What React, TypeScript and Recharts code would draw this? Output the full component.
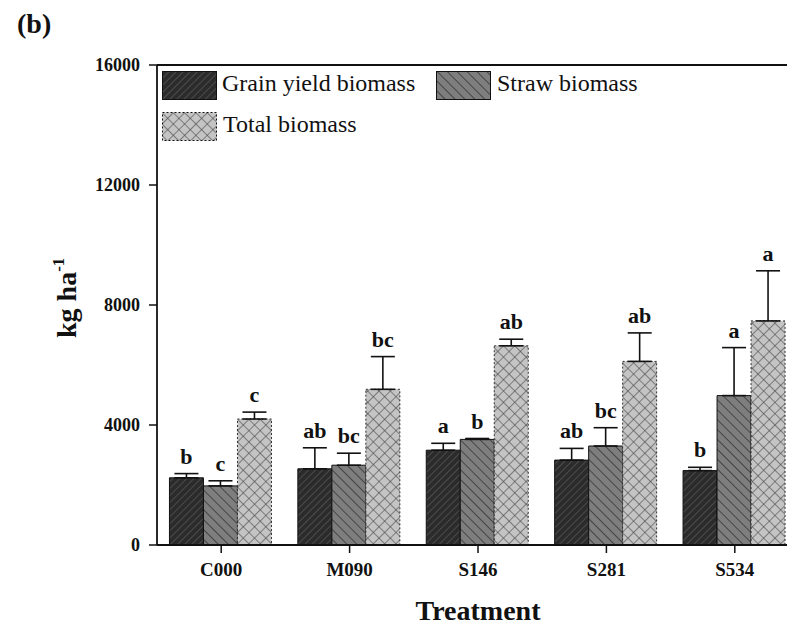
import React from 'react';
import { BarChart, Bar, XAxis, YAxis, ErrorBar, LabelList, Legend, ReferenceLine } from 'recharts';

const categories = ['C000', 'M090', 'S146', 'S281', 'S534'];
const grain = [2240, 2540, 3160, 2830, 2480];
const grainErr = [140, 700, 230, 390, 110];
const straw = [1970, 2660, 3520, 3300, 4980];
const strawErr = [170, 400, 30, 610, 1600];
const total = [4200, 5190, 6640, 6120, 7470];
const totalErr = [230, 1090, 220, 950, 1670];
const grainLetters = ['b', 'ab', 'a', 'ab', 'b'];
const strawLetters = ['c', 'bc', 'b', 'bc', 'a'];
const totalLetters = ['c', 'bc', 'ab', 'ab', 'a'];
const yTicks = [0, 4000, 8000, 12000, 16000];

const data = categories.map((c, i) => ({
  name: c,
  grain: grain[i],
  grainErr: [0, grainErr[i]],
  grainLetter: grainLetters[i],
  straw: straw[i],
  strawErr: [0, strawErr[i]],
  strawLetter: strawLetters[i],
  total: total[i],
  totalErr: [0, totalErr[i]],
  totalLetter: totalLetters[i],
}));

const FONT = "'Times New Roman', 'Liberation Serif', serif";

const makeLetter = (vals: number[], errs: number[]) => (props: any) => {
  const { x, y, width, height, value, index } = props;
  const v = vals[index];
  const e = errs[index];
  const pxPer = v ? Number(height) / v : 0;
  const top = Number(y) - e * pxPer;
  return (
    <text
      x={Number(x) + Number(width) / 2}
      y={top - 10}
      textAnchor="middle"
      fontFamily={FONT}
      fontWeight="bold"
      fontSize={22}
      fill="#111"
    >
      {value}
    </text>
  );
};

const Swatch = ({ fill, dashed }: { fill: string; dashed?: boolean }) => (
  <svg width={55} height={29} style={{ display: 'block' }}>
    <rect
      x={0.5}
      y={0.5}
      width={54}
      height={28}
      fill={fill}
      stroke="#111"
      strokeWidth={1}
      strokeDasharray={dashed ? '2 2' : undefined}
    />
  </svg>
);

const renderLegend = () => {
  const txt: React.CSSProperties = {
    position: 'absolute',
    fontFamily: FONT,
    fontSize: 24,
    color: '#111',
    lineHeight: '29px',
    whiteSpace: 'nowrap',
  };
  return (
    <div style={{ position: 'relative', width: 0, height: 0, overflow: 'visible' }}>
      <div style={{ position: 'absolute', left: 162, top: 71 }}>
        <Swatch fill="url(#pGrain)" />
      </div>
      <div style={{ ...txt, left: 222, top: 69 }}>Grain yield biomass</div>
      <div style={{ position: 'absolute', left: 436, top: 71 }}>
        <Swatch fill="url(#pStraw)" />
      </div>
      <div style={{ ...txt, left: 497, top: 69 }}>Straw biomass</div>
      <div style={{ position: 'absolute', left: 162, top: 112 }}>
        <Swatch fill="url(#pTotal)" dashed />
      </div>
      <div style={{ ...txt, left: 223, top: 110 }}>Total biomass</div>
    </div>
  );
};

const YLabel = () => (
  <text
    transform="translate(76, 338) rotate(-90)"
    fontFamily={FONT}
    fontWeight="bold"
    fontSize={28}
    fill="#111"
  >
    kg ha
    <tspan fontSize={17} dy={-12}>-1</tspan>
  </text>
);

const XLabel = (props: any) => {
  const vb = props.viewBox || {};
  const cx = (vb.x ?? 157) + (vb.width ?? 642) / 2;
  return (
    <text x={cx} y={620} textAnchor="middle" fontFamily={FONT} fontWeight="bold" fontSize={28} fill="#111">
      Treatment
    </text>
  );
};

export default function App() {
  return (
    <div style={{ position: 'fixed', left: 0, top: 0, width: 787, height: 625, overflow: 'hidden', background: '#fff' }}>
      <svg width={0} height={0} style={{ position: 'absolute' }}>
        <defs>
          <pattern id="pGrain" patternUnits="userSpaceOnUse" width={5} height={5} patternTransform="rotate(45)">
            <rect width={5} height={5} fill="#2b2b2b" />
            <line x1={0} y1={0} x2={0} y2={5} stroke="#555" strokeWidth={1.5} />
          </pattern>
          <pattern id="pStraw" patternUnits="userSpaceOnUse" width={7} height={7} patternTransform="rotate(-45)">
            <rect width={7} height={7} fill="#7e7e7e" />
            <line x1={0} y1={0} x2={0} y2={7} stroke="#363636" strokeWidth={1.6} />
          </pattern>
          <pattern id="pTotal" patternUnits="userSpaceOnUse" width={8} height={8} patternTransform="rotate(45)">
            <rect width={8} height={8} fill="#c4c4c4" />
            <line x1={0} y1={0} x2={0} y2={8} stroke="#484848" strokeWidth={1.2} />
            <line x1={0} y1={0} x2={8} y2={0} stroke="#484848" strokeWidth={1.2} />
          </pattern>
        </defs>
      </svg>
      <div style={{ position: 'absolute', left: 17, top: 8, fontFamily: FONT, fontWeight: 'bold', fontSize: 28, color: '#111' }}>
        (b)
      </div>
      <div style={{ position: 'absolute', left: 0, top: 0 }}>
        <BarChart
          width={810}
          height={625}
          data={data}
          margin={{ top: 65, right: 11, bottom: 0, left: 77 }}
          barGap={0}
          barCategoryGap="9.7%"
        >
          <XAxis
            dataKey="name"
            height={80}
            tickSize={8}
            tickMargin={10}
            axisLine={{ stroke: '#111', strokeWidth: 1.8 }}
            tickLine={{ stroke: '#111', strokeWidth: 1.5 }}
            tick={{ fontFamily: FONT, fontWeight: 'bold', fontSize: 19, fill: '#111' }}
            label={<XLabel />}
          />
          <YAxis
            width={80}
            domain={[0, 16000]}
            ticks={yTicks}
            interval={0}
            tickSize={8}
            tickMargin={9}
            axisLine={{ stroke: '#111', strokeWidth: 1.8 }}
            tickLine={{ stroke: '#111', strokeWidth: 1.5 }}
            tick={{ fontFamily: FONT, fontWeight: 'bold', fontSize: 18, fill: '#111' }}
            label={<YLabel />}
          />
          <ReferenceLine y={16000} stroke="#111" strokeWidth={1.8} />
          <Legend
            layout="horizontal"
            verticalAlign="middle"
            align="center"
            content={renderLegend}
            wrapperStyle={{ position: 'absolute', left: 0, top: 0, width: 0, height: 0, overflow: 'visible' }}
          />
          <Bar dataKey="grain" name="Grain yield biomass" fill="url(#pGrain)" stroke="#111" strokeWidth={1} isAnimationActive={false}>
            <ErrorBar dataKey="grainErr" width={12} stroke="#111" strokeWidth={1.6} direction="y" />
            <LabelList dataKey="grainLetter" content={makeLetter(grain, grainErr)} />
          </Bar>
          <Bar dataKey="straw" name="Straw biomass" fill="url(#pStraw)" stroke="#111" strokeWidth={1} isAnimationActive={false}>
            <ErrorBar dataKey="strawErr" width={12} stroke="#111" strokeWidth={1.6} direction="y" />
            <LabelList dataKey="strawLetter" content={makeLetter(straw, strawErr)} />
          </Bar>
          <Bar dataKey="total" name="Total biomass" fill="url(#pTotal)" stroke="#333" strokeWidth={1} strokeDasharray="2 2" isAnimationActive={false}>
            <ErrorBar dataKey="totalErr" width={12} stroke="#111" strokeWidth={1.6} direction="y" />
            <LabelList dataKey="totalLetter" content={makeLetter(total, totalErr)} />
          </Bar>
        </BarChart>
      </div>
    </div>
  );
}
